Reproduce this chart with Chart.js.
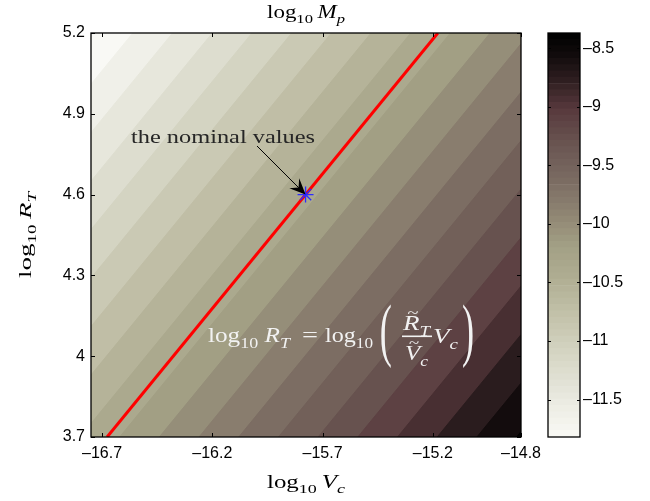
<!DOCTYPE html>
<html>
<head>
<meta charset="utf-8">
<script src="https://cdn.jsdelivr.net/npm/chart.js@4.4.0/dist/chart.umd.min.js"></script>
<style>
  html, body { margin: 0; padding: 0; background: #fff; }
  #wrap { position: relative; width: 650px; height: 501px; }
  #main { position: absolute; left: 0; top: 0; }
  #cbar { position: absolute; left: 540px; top: 0; }
</style>
</head>
<body>
<div id="wrap">
  <canvas id="main" width="650" height="501"></canvas>
  <canvas id="cbar" width="110" height="501"></canvas>
</div>
<script>
// axis ranges and ticks
const xLimits = [-16.75, -14.8];
const yLimits = [3.7, 5.2];
const xTicks = [-16.7, -16.2, -15.7, -15.2, -14.8];
const yTicks = [3.7, 4, 4.3, 4.6, 4.9, 5.2];
const cTicks = [-11.5, -11, -10.5, -10, -9.5, -9, -8.5];

// log10 Mp over the plane: log10 Mp = log10 Vc - log10 RT + zOffset
const zLimits = [-11.82, -8.37];
const zOffset = 10.13;
// contour levels
const levels = [-11.63, -11.45, -11.27, -11.09, -10.91, -10.73, -10.55, -10.37, -10.19,
                -10.01, -9.83, -9.65, -9.47, -9.29, -9.11, -8.93, -8.75, -8.57, -8.39];

// red line log10 RT = log10 Vc + ratioOffset, and the nominal point on it
const ratioOffset = 20.377;
const nominal = [{ x: -15.777, y: 4.6 }];

// colormap (low -> high)
const cmapStops = [
  [0.00, '#f9f9f5'], [0.08, '#ececE3'], [0.20, '#d6d6c5'], [0.30, '#c3c2aa'],
  [0.40, '#aeac91'], [0.47, '#a3a085'], [0.55, '#8f8573'], [0.63, '#7c6d63'],
  [0.72, '#6a5652'], [0.81, '#58393d'], [0.88, '#2f1f21'], [0.95, '#0f0a0a'],
  [1.00, '#000000']
];

function hexToRgb(h) {
  h = h.toLowerCase();
  return [1, 3, 5].map(i => parseInt(h.slice(i, i + 2), 16));
}
function cmap(t) {
  t = Math.min(1, Math.max(0, t));
  for (let i = 1; i < cmapStops.length; i++) {
    if (t <= cmapStops[i][0]) {
      const [t0, c0] = cmapStops[i - 1], [t1, c1] = cmapStops[i];
      const f = (t - t0) / (t1 - t0);
      const a = hexToRgb(c0), b = hexToRgb(c1);
      return 'rgb(' + a.map((v, k) => Math.round(v + (b[k] - v) * f)).join(',') + ')';
    }
  }
  return cmapStops[cmapStops.length - 1][1];
}
const zt = z => (z - zLimits[0]) / (zLimits[1] - zLimits[0]);
const fmt = v => (v < 0 ? '\u2013' : '') + Math.abs(v);

const SERIF = '"Liberation Serif", "DejaVu Serif", serif';
const TICKFONT = { family: '"Liberation Sans", Arial, sans-serif', size: 16 };

// --- rich text helpers (log with subscripts, italics) ---
function partFont(p, size) {
  const s = p.sub ? Math.round(size * 0.72) : size;
  return (p.it ? 'italic ' : '') + s + 'px ' + SERIF;
}
function drawRich(ctx, parts, x, y, size, align, fitWidth, color) {
  ctx.save();
  let w = 0;
  const widths = parts.map(p => {
    ctx.font = partFont(p, size);
    const pw = ctx.measureText(p.t).width + (p.gap || 0) * size;
    w += pw;
    return pw;
  });
  const sx = fitWidth ? fitWidth / w : 1;
  ctx.translate(x, y);
  ctx.scale(sx, 1);
  ctx.fillStyle = color;
  ctx.textBaseline = 'alphabetic';
  ctx.textAlign = 'left';
  let cx = align === 'center' ? -w / 2 : 0;
  parts.forEach((p, i) => {
    ctx.font = partFont(p, size);
    const dy = p.sub ? size * 0.28 : 0;
    ctx.fillText(p.t, cx, dy);
    if (p.tilde) {
      const gw = ctx.measureText(p.t).width;
      ctx.font = Math.round(size * 0.75) + 'px ' + SERIF;
      ctx.textAlign = 'center';
      ctx.fillText('~', cx + gw * 0.6, dy - size * 0.62);
      ctx.textAlign = 'left';
    }
    cx += widths[i];
  });
  ctx.restore();
}
function drawFitGlyph(ctx, ch, x0, y0, x1, y1, color) {
  ctx.save();
  ctx.font = '80px ' + SERIF;
  const m = ctx.measureText(ch);
  const gw = m.actualBoundingBoxLeft + m.actualBoundingBoxRight;
  const gh = m.actualBoundingBoxAscent + m.actualBoundingBoxDescent;
  ctx.translate(x0, y0);
  ctx.scale((x1 - x0) / gw, (y1 - y0) / gh);
  ctx.fillStyle = color;
  ctx.textBaseline = 'alphabetic';
  ctx.textAlign = 'left';
  ctx.fillText(ch, m.actualBoundingBoxLeft, m.actualBoundingBoxAscent);
  ctx.restore();
}

// --- datasets for the filled contour: each level fills everything below its line ---
const bandLevels = [zLimits[0]].concat(levels);
const bandSets = bandLevels.map((L, k) => {
  const col = cmap(zt(L));
  return {
    data: xLimits.map(x => ({ x: x, y: x + zOffset - L })),
    fill: 'start',
    backgroundColor: col,
    borderColor: col,
    borderWidth: 1,
    pointRadius: 0,
    tension: 0,
    order: 100 - k
  };
});

const mainOverlay = {
  id: 'mainOverlay',
  afterDraw(chart) {
    const { ctx, chartArea: a, scales } = chart;
    const xs = scales.x, ys = scales.y;
    ctx.save();
    // box
    ctx.strokeStyle = '#000';
    ctx.lineWidth = 1.3;
    ctx.strokeRect(a.left, a.top, a.right - a.left, a.bottom - a.top);
    // inward ticks on all four sides
    ctx.lineWidth = 1;
    ctx.beginPath();
    xTicks.forEach(v => {
      const px = Math.round(xs.getPixelForValue(v)) + 0.5;
      ctx.moveTo(px, a.bottom); ctx.lineTo(px, a.bottom - 4);
      ctx.moveTo(px, a.top); ctx.lineTo(px, a.top + 4);
    });
    yTicks.forEach(v => {
      const py = Math.round(ys.getPixelForValue(v)) + 0.5;
      ctx.moveTo(a.left, py); ctx.lineTo(a.left + 4, py);
      ctx.moveTo(a.right, py); ctx.lineTo(a.right - 4, py);
    });
    ctx.stroke();

    const cxp = (a.left + a.right) / 2, cyp = (a.top + a.bottom) / 2;
    // axis titles
    drawRich(ctx, [{ t: 'log' }, { t: '10', sub: true, gap: 0.2 }, { t: 'M', it: true }, { t: 'p', it: true, sub: true }],
      cxp, 18, 18, 'center', 78, '#000');
    drawRich(ctx, [{ t: 'log' }, { t: '10', sub: true, gap: 0.2 }, { t: 'V', it: true }, { t: 'c', it: true, sub: true }],
      cxp, 488, 18, 'center', 78, '#000');
    ctx.save();
    ctx.translate(31, cyp);
    ctx.rotate(-Math.PI / 2);
    drawRich(ctx, [{ t: 'log' }, { t: '10', sub: true, gap: 0.2 }, { t: 'R', it: true }, { t: 'T', it: true, sub: true }],
      0, 0, 17, 'center', 86, '#000');
    ctx.restore();

    // annotation
    drawRich(ctx, [{ t: 'the nominal values' }], 131, 143, 19, 'left', 184, '#262626');
    const tipX = xs.getPixelForValue(nominal[0].x), tipY = ys.getPixelForValue(nominal[0].y);
    const tailX = 257, tailY = 146;
    const ang = Math.atan2(tipY - tailY, tipX - tailX);
    const hl = 16, hw = 7;
    ctx.strokeStyle = '#000';
    ctx.fillStyle = '#000';
    ctx.lineWidth = 1;
    ctx.beginPath();
    ctx.moveTo(tailX, tailY);
    ctx.lineTo(tipX - Math.cos(ang) * hl * 0.6, tipY - Math.sin(ang) * hl * 0.6);
    ctx.stroke();
    ctx.save();
    ctx.translate(tipX, tipY);
    ctx.rotate(ang);
    ctx.beginPath();
    ctx.moveTo(0, 0);
    ctx.lineTo(-hl, -hw);
    ctx.lineTo(-hl * 0.62, 0);
    ctx.lineTo(-hl, hw);
    ctx.closePath();
    ctx.fill();
    ctx.restore();

    // equation in white
    const W = '#f2f2f2';
    drawRich(ctx, [{ t: 'log' }, { t: '10', sub: true, gap: 0.25 }, { t: 'R', it: true }, { t: 'T', it: true, sub: true }],
      208, 342, 21, 'left', 82, W);
    drawRich(ctx, [{ t: '=' }], 302, 342, 21, 'left', 16, W);
    drawRich(ctx, [{ t: 'log' }, { t: '10', sub: true }], 325, 342, 21, 'left', 48, W);
    drawFitGlyph(ctx, '(', 381, 305, 391, 369, W);
    drawRich(ctx, [{ t: 'R', it: true, tilde: true }, { t: 'T', it: true, sub: true }], 403, 330, 20, 'left', 27, W);
    ctx.fillStyle = W;
    ctx.fillRect(402, 335.5, 30, 1.6);
    drawRich(ctx, [{ t: 'V', it: true, tilde: true }, { t: 'c', it: true, sub: true }], 405, 360, 20, 'left', 23, W);
    drawRich(ctx, [{ t: 'V', it: true }, { t: 'c', it: true, sub: true }], 433, 343, 20, 'left', 25, W);
    drawFitGlyph(ctx, ')', 463, 305, 473, 369, W);
    ctx.restore();
  }
};

new Chart(document.getElementById('main'), {
  type: 'line',
  data: {
    datasets: [
      {
        data: nominal, showLine: false, pointStyle: 'star', pointRadius: 8,
        pointBorderColor: '#2c2cff', pointBackgroundColor: '#2c2cff', pointBorderWidth: 1.3, order: -1
      },
      {
        data: yLimits.map(y => ({ x: y - ratioOffset, y: y })),
        borderColor: '#ff0000', borderWidth: 3, fill: false, pointRadius: 0, order: 0
      }
    ].concat(bandSets)
  },
  options: {
    responsive: false, animation: false, events: [],
    layout: { padding: { left: 0, top: 33, right: 129, bottom: 0 } },
    plugins: { legend: { display: false }, tooltip: { enabled: false }, title: { display: false } },
    scales: {
      x: {
        type: 'linear', min: xLimits[0], max: xLimits[1],
        grid: { display: false, drawTicks: false }, border: { display: false },
        afterBuildTicks: s => { s.ticks = xTicks.map(v => ({ value: v })); },
        afterFit: s => { s.height = 64; },
        ticks: { autoSkip: false, maxRotation: 0, padding: 7, color: '#000', font: TICKFONT, callback: v => fmt(v) }
      },
      y: {
        type: 'linear', min: yLimits[0], max: yLimits[1],
        grid: { display: false, drawTicks: false }, border: { display: false },
        afterBuildTicks: s => { s.ticks = yTicks.map(v => ({ value: v })); },
        afterFit: s => { s.width = 91; },
        ticks: { autoSkip: false, padding: 6, color: '#000', font: TICKFONT, callback: v => fmt(v) }
      }
    }
  },
  plugins: [mainOverlay]
});

// --- colorbar ---
const cbSteps = 64;
const cbSets = Array.from({ length: cbSteps }, (_, i) => {
  const span = zLimits[1] - zLimits[0];
  return {
    data: [[zLimits[0] + span * i / cbSteps, zLimits[0] + span * (i + 1) / cbSteps]],
    backgroundColor: cmap((i + 0.5) / cbSteps),
    borderWidth: 0, grouped: false, barPercentage: 1, categoryPercentage: 1
  };
});

const cbOverlay = {
  id: 'cbOverlay',
  afterDraw(chart) {
    const { ctx, chartArea: a, scales } = chart;
    ctx.save();
    ctx.strokeStyle = '#000';
    ctx.lineWidth = 1.3;
    ctx.strokeRect(a.left, a.top, a.right - a.left, a.bottom - a.top);
    ctx.lineWidth = 1;
    ctx.beginPath();
    cTicks.forEach(v => {
      const py = Math.round(scales.y.getPixelForValue(v)) + 0.5;
      ctx.moveTo(a.left, py); ctx.lineTo(a.left + 3, py);
      ctx.moveTo(a.right, py); ctx.lineTo(a.right - 3, py);
    });
    ctx.stroke();
    ctx.restore();
  }
};

new Chart(document.getElementById('cbar'), {
  type: 'bar',
  data: { labels: [''], datasets: cbSets },
  options: {
    responsive: false, animation: false, events: [],
    layout: { padding: { left: 8, top: 33, right: 0, bottom: 64 } },
    plugins: { legend: { display: false }, tooltip: { enabled: false } },
    scales: {
      x: { display: false },
      y: {
        position: 'right', min: zLimits[0], max: zLimits[1],
        grid: { display: false, drawTicks: false }, border: { display: false },
        afterBuildTicks: s => { s.ticks = cTicks.map(v => ({ value: v })); },
        afterFit: s => { s.width = 70; },
        ticks: { autoSkip: false, padding: 3, color: '#000', font: TICKFONT, callback: v => fmt(v) }
      }
    }
  },
  plugins: [cbOverlay]
});
</script>
</body>
</html>
